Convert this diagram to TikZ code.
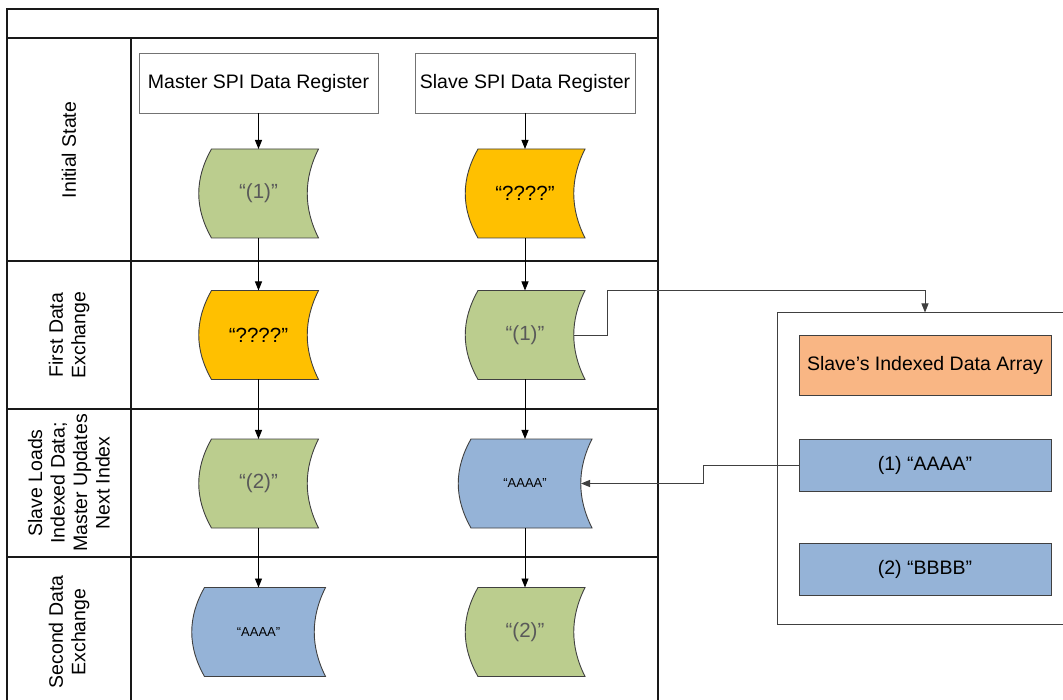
\documentclass[tikz,border=0pt]{standalone}
\usepackage{fontspec}
\setmainfont{Liberation Sans}
\usetikzlibrary{positioning,arrows.meta,backgrounds}
\definecolor{leaf}{HTML}{BBCD8E}
\definecolor{gold}{HTML}{FFC000}
\definecolor{steel}{HTML}{95B3D7}
\definecolor{peach}{HTML}{F9B684}
\definecolor{edge}{HTML}{404040}
\definecolor{dim}{HTML}{595959}

% stored-data symbol: [node options]{name}{centre}{width}{fill}{text}
\newcommand\store[6][]{%
  \node[store,minimum width=#4,#1] (#2) at (#3) {#6};
  \begin{scope}[on background layer]
    \filldraw[fill=#5,draw=edge,line width=0.9pt] ([xshift=13]#2.north west) -- (#2.north east)
      .. controls +(-15,30) and +(-15,-30) .. (#2.south east)
      -- ([xshift=13]#2.south west)
      .. controls +(-17,-30) and +(-17,30) .. ([xshift=13]#2.north west) -- cycle;
  \end{scope}
  \coordinate (#2-in) at ([xshift=-11]#2.east);
}

\begin{document}
\begin{tikzpicture}[x=1pt,y=-1pt,>={Triangle[length=9pt,width=7pt]},
font=\fontsize{19.5}{22.5}\selectfont,
frame/.style={draw=black!90,line width=1.2pt},
reg/.style={draw=black!55,fill=white,minimum height=60pt,inner sep=0pt,outer sep=0pt},
store/.style={minimum height=89pt,inner sep=0pt,outer sep=0pt,font=\fontsize{20.5}{24}\selectfont},
smalltxt/.style={font=\fontsize{13}{15}\selectfont},
item/.style={draw=edge,minimum width=252pt,inner sep=0pt,outer sep=0pt},
lane/.style={rotate=90,align=center},
link/.style={->,line width=0.9pt}]
\useasboundingbox (0,0) rectangle (1063,700);

% swimlanes
\draw[frame] (7,705) -- (7,9) -- (658,9) -- (658,705);
\draw[frame] (7,38) -- (658,38);
\foreach \y in {261,409,557} \draw[frame] (7,\y) -- (658,\y);
\draw[frame] (131,38) -- (131,705);
\node[lane] (l1) at (69,150) {Initial State};
\node[lane] (l2) at (69,335) {First Data\\Exchange};
\node[lane] (l3) at (69,483) {Slave Loads\\Indexed Data;\\Master Updates\\Next Index};
\node[lane] (l4) at (69,632) {Second Data\\Exchange};

% registers
\node[reg,minimum width=239pt] (mreg) at (258.5,83) {Master SPI Data Register};
\node[reg,minimum width=220pt] (sreg) at (525,83) {Slave SPI Data Register};

\store[text=dim]{m1}{258.5,193.5}{120}{leaf}{“(1)”}
\store{s1}{525,193.5}{120}{gold}{“????”}
\store{m2}{258.5,335}{120}{gold}{“????”}
\store[text=dim]{s2}{525,335}{120}{leaf}{“(1)”}
\store[text=dim]{m3}{258.5,483.5}{120}{leaf}{“(2)”}
\store[smalltxt]{s3}{525,483.5}{134}{steel}{“AAAA”}
\store[smalltxt]{m4}{258.5,632}{134}{steel}{“AAAA”}
\store[text=dim]{s4}{525,632}{120}{leaf}{“(2)”}

\foreach \a/\b in {mreg/m1,m1/m2,m2/m3,m3/m4,sreg/s1,s1/s2,s2/s3,s3/s4}
  \draw[link] (\a) -- (\b);

% slave data array
\node[draw=edge,line width=1pt,minimum width=296pt,minimum height=311pt,inner sep=0pt] (panel) at (925,468.5) {};
\node[item,fill=peach,minimum height=60pt] (hd) at (925,365) {Slave’s Indexed Data Array};
\node[item,fill=steel,minimum height=52pt,below=44pt of hd] (a1) {(1) “AAAA”};
\node[item,fill=steel,minimum height=52pt,below=52pt of a1] (a2) {(2) “BBBB”};

\draw[link,draw=edge] (s2-in) -- ++(33,0) |- (s2.north -| panel.north) -- (panel.north);
\draw[link,draw=edge] (a1.west) -- ++(-96,0) |- (s3-in);
\end{tikzpicture}
\end{document}
